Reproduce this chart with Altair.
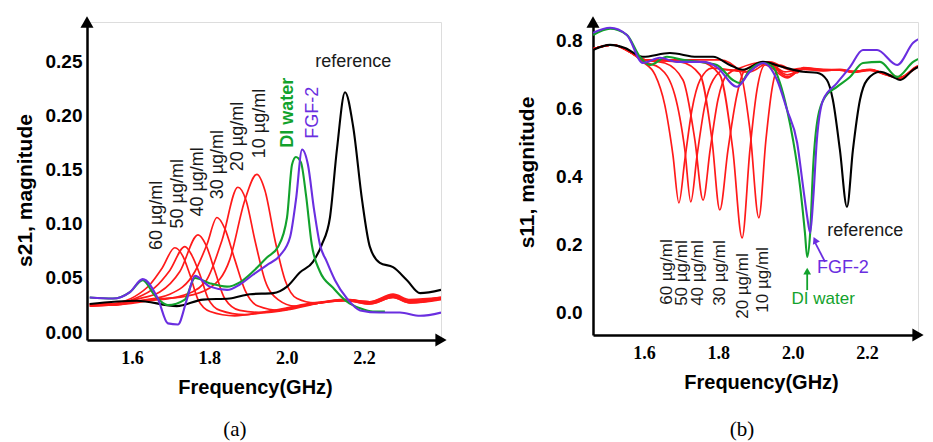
import altair as alt
import pandas as pd

# ---------------- Panel (a): s21 magnitude ----------------
A_F_REF = [1.491, 1.613, 1.716, 1.784, 1.853, 1.905, 1.965, 2.001, 2.034, 2.068, 2.091, 2.112, 2.130, 2.151, 2.172, 2.195, 2.215, 2.241, 2.275, 2.311, 2.345, 2.399]
A_V_REF = [0.026, 0.029, 0.024, 0.030, 0.031, 0.035, 0.036, 0.042, 0.055, 0.065, 0.081, 0.106, 0.169, 0.222, 0.190, 0.122, 0.079, 0.064, 0.060, 0.048, 0.036, 0.039]

A_F_DI = [1.491, 1.551, 1.595, 1.628, 1.659, 1.693, 1.737, 1.763, 1.802, 1.846, 1.879, 1.913, 1.949, 1.978, 2.001, 2.014, 2.024, 2.037, 2.050, 2.065, 2.086, 2.120, 2.156, 2.190, 2.223, 2.254]
A_V_DI = [0.032, 0.031, 0.037, 0.048, 0.034, 0.025, 0.030, 0.050, 0.045, 0.042, 0.046, 0.056, 0.069, 0.079, 0.106, 0.155, 0.162, 0.157, 0.127, 0.081, 0.056, 0.041, 0.028, 0.022, 0.019, 0.019]

A_F_FGF = [1.491, 1.551, 1.595, 1.628, 1.667, 1.693, 1.719, 1.742, 1.763, 1.802, 1.846, 1.879, 1.913, 1.949, 1.983, 2.009, 2.024, 2.040, 2.055, 2.071, 2.086, 2.104, 2.125, 2.156, 2.190, 2.241, 2.293, 2.345, 2.399]
A_V_FGF = [0.032, 0.031, 0.037, 0.049, 0.031, 0.008, 0.007, 0.030, 0.052, 0.042, 0.039, 0.044, 0.053, 0.062, 0.071, 0.088, 0.122, 0.169, 0.155, 0.113, 0.081, 0.065, 0.048, 0.031, 0.020, 0.018, 0.018, 0.015, 0.018]

A_F_60 = [1.491, 1.551, 1.608, 1.647, 1.678, 1.711, 1.732, 1.750, 1.771, 1.802, 1.866, 1.931, 1.996, 2.068, 2.156, 2.215, 2.275, 2.319, 2.399]
A_V_60 = [0.024, 0.026, 0.033, 0.044, 0.059, 0.078, 0.070, 0.053, 0.030, 0.019, 0.015, 0.018, 0.022, 0.027, 0.029, 0.026, 0.032, 0.027, 0.030]
A_F_50 = [1.491, 1.551, 1.608, 1.659, 1.698, 1.737, 1.755, 1.776, 1.797, 1.828, 1.892, 1.957, 2.022, 2.086, 2.156, 2.215, 2.275, 2.319, 2.399]
A_V_50 = [0.024, 0.025, 0.031, 0.041, 0.057, 0.079, 0.071, 0.053, 0.031, 0.020, 0.016, 0.019, 0.023, 0.027, 0.029, 0.026, 0.032, 0.027, 0.031]
A_F_40 = [1.491, 1.551, 1.608, 1.672, 1.724, 1.771, 1.791, 1.815, 1.840, 1.879, 1.944, 2.009, 2.086, 2.156, 2.215, 2.275, 2.319, 2.399]
A_V_40 = [0.025, 0.025, 0.030, 0.037, 0.056, 0.090, 0.081, 0.056, 0.031, 0.020, 0.018, 0.021, 0.027, 0.030, 0.027, 0.033, 0.028, 0.031]
A_F_30 = [1.491, 1.551, 1.621, 1.698, 1.763, 1.794, 1.820, 1.840, 1.866, 1.892, 1.926, 1.983, 2.047, 2.112, 2.164, 2.215, 2.275, 2.319, 2.399]
A_V_30 = [0.025, 0.025, 0.029, 0.035, 0.056, 0.081, 0.106, 0.096, 0.067, 0.039, 0.024, 0.020, 0.025, 0.028, 0.030, 0.027, 0.034, 0.028, 0.031]
A_F_20 = [1.491, 1.551, 1.647, 1.724, 1.789, 1.833, 1.874, 1.895, 1.918, 1.944, 1.978, 2.022, 2.086, 2.151, 2.215, 2.275, 2.319, 2.399]
A_V_20 = [0.026, 0.025, 0.029, 0.033, 0.046, 0.085, 0.134, 0.122, 0.085, 0.048, 0.030, 0.024, 0.027, 0.030, 0.028, 0.034, 0.029, 0.032]
A_F_10 = [1.491, 1.551, 1.647, 1.737, 1.802, 1.853, 1.892, 1.923, 1.944, 1.970, 1.996, 2.027, 2.073, 2.138, 2.215, 2.275, 2.319, 2.399]
A_V_10 = [0.026, 0.026, 0.030, 0.033, 0.041, 0.067, 0.122, 0.146, 0.131, 0.085, 0.048, 0.031, 0.027, 0.030, 0.028, 0.035, 0.030, 0.032]

A_LABELS = ["60 \u00b5g/ml", "50 \u00b5g/ml", "40 \u00b5g/ml", "30 \u00b5g/ml", "20 \u00b5g/ml", "10 \u00b5g/ml"]
A_LABEL_F = [1.665, 1.719, 1.771, 1.822, 1.874, 1.931]
A_LABEL_V = [0.108, 0.128, 0.139, 0.155, 0.181, 0.193]

# ---------------- Panel (b): s11 magnitude ----------------
B_F_REF = [1.463, 1.509, 1.549, 1.597, 1.670, 1.743, 1.786, 1.831, 1.866, 1.920, 1.974, 2.028, 2.065, 2.092, 2.108, 2.127, 2.146, 2.162, 2.181, 2.200, 2.235, 2.270, 2.289, 2.324, 2.369]
B_V_REF = [0.771, 0.786, 0.777, 0.751, 0.762, 0.751, 0.751, 0.727, 0.713, 0.736, 0.721, 0.707, 0.704, 0.683, 0.625, 0.478, 0.311, 0.478, 0.625, 0.683, 0.707, 0.692, 0.683, 0.713, 0.736]

B_F_DI = [1.463, 1.509, 1.554, 1.589, 1.616, 1.662, 1.705, 1.751, 1.796, 1.839, 1.858, 1.885, 1.920, 1.947, 1.966, 1.985, 2.001, 2.020, 2.033, 2.039, 2.047, 2.055, 2.068, 2.087, 2.119, 2.154, 2.189, 2.235, 2.281, 2.324, 2.369]
B_V_DI = [0.815, 0.833, 0.815, 0.751, 0.727, 0.751, 0.742, 0.736, 0.727, 0.683, 0.674, 0.713, 0.733, 0.721, 0.674, 0.595, 0.507, 0.370, 0.235, 0.164, 0.235, 0.428, 0.575, 0.633, 0.663, 0.692, 0.733, 0.736, 0.692, 0.736, 0.757]

B_F_FGF = [1.463, 1.509, 1.554, 1.597, 1.643, 1.689, 1.759, 1.796, 1.850, 1.885, 1.920, 1.958, 1.985, 2.012, 2.028, 2.039, 2.047, 2.055, 2.065, 2.082, 2.119, 2.154, 2.189, 2.227, 2.281, 2.324, 2.369]
B_V_FGF = [0.821, 0.836, 0.815, 0.733, 0.748, 0.736, 0.736, 0.721, 0.663, 0.707, 0.733, 0.683, 0.595, 0.499, 0.370, 0.282, 0.235, 0.331, 0.507, 0.625, 0.674, 0.721, 0.771, 0.771, 0.727, 0.792, 0.815]

B_F_60 = [1.463, 1.517, 1.562, 1.597, 1.630, 1.656, 1.678, 1.694, 1.710, 1.729, 1.751, 1.783, 1.831, 1.885, 1.939, 1.993, 2.028, 2.082, 2.127, 2.162, 2.208, 2.254, 2.289, 2.334, 2.369]
B_V_60 = [0.774, 0.786, 0.765, 0.736, 0.698, 0.610, 0.463, 0.323, 0.449, 0.595, 0.683, 0.718, 0.713, 0.707, 0.736, 0.713, 0.718, 0.713, 0.713, 0.707, 0.713, 0.698, 0.689, 0.721, 0.733]
B_F_50 = [1.463, 1.517, 1.562, 1.603, 1.643, 1.683, 1.710, 1.726, 1.743, 1.764, 1.786, 1.818, 1.872, 1.931, 1.979, 2.028, 2.082, 2.127, 2.162, 2.208, 2.254, 2.289, 2.334, 2.369]
B_V_50 = [0.774, 0.786, 0.765, 0.736, 0.718, 0.639, 0.478, 0.326, 0.463, 0.610, 0.683, 0.713, 0.707, 0.736, 0.707, 0.716, 0.711, 0.712, 0.705, 0.711, 0.697, 0.688, 0.720, 0.732]
B_F_40 = [1.463, 1.517, 1.562, 1.603, 1.656, 1.705, 1.737, 1.759, 1.778, 1.799, 1.823, 1.858, 1.931, 1.985, 2.028, 2.082, 2.127, 2.162, 2.208, 2.254, 2.289, 2.334, 2.369]
B_V_40 = [0.774, 0.786, 0.765, 0.742, 0.733, 0.683, 0.507, 0.331, 0.478, 0.625, 0.698, 0.718, 0.736, 0.698, 0.715, 0.710, 0.713, 0.706, 0.712, 0.699, 0.690, 0.722, 0.734]
B_F_30 = [1.463, 1.517, 1.562, 1.603, 1.697, 1.751, 1.783, 1.804, 1.826, 1.850, 1.872, 1.931, 1.985, 2.028, 2.082, 2.127, 2.162, 2.208, 2.254, 2.289, 2.334, 2.369]
B_V_30 = [0.774, 0.786, 0.765, 0.742, 0.736, 0.698, 0.507, 0.302, 0.478, 0.639, 0.713, 0.736, 0.692, 0.714, 0.712, 0.714, 0.708, 0.713, 0.700, 0.691, 0.723, 0.735]
B_F_20 = [1.463, 1.517, 1.562, 1.603, 1.751, 1.804, 1.839, 1.864, 1.885, 1.904, 1.926, 1.985, 2.028, 2.082, 2.127, 2.162, 2.208, 2.254, 2.289, 2.334, 2.369]
B_V_20 = [0.774, 0.786, 0.765, 0.742, 0.736, 0.698, 0.478, 0.220, 0.478, 0.654, 0.727, 0.689, 0.717, 0.713, 0.712, 0.707, 0.714, 0.698, 0.689, 0.721, 0.733]
B_F_10 = [1.463, 1.517, 1.562, 1.603, 1.804, 1.858, 1.885, 1.909, 1.928, 1.944, 1.966, 2.012, 2.028, 2.082, 2.127, 2.162, 2.208, 2.254, 2.289, 2.334, 2.369]
B_V_10 = [0.774, 0.786, 0.765, 0.742, 0.742, 0.707, 0.537, 0.279, 0.507, 0.654, 0.727, 0.704, 0.719, 0.714, 0.713, 0.708, 0.713, 0.699, 0.690, 0.722, 0.734]

B_LABELS = A_LABELS
B_LABEL_F = [1.662, 1.702, 1.745, 1.804, 1.866, 1.920]
B_LABEL_V = [0.120, 0.117, 0.117, 0.117, 0.079, 0.097]

RED = "#ff1a1a"
GREEN = "#12a22c"
PURPLE = "#6a2ee0"
SANS = "Liberation Sans"
SERIF = "Liberation Serif"


def frame(fs, vs, name):
    return pd.DataFrame({"f": fs, "v": vs, "s": name})


def panel(xdom, ydom, yvals, yfmt, ytitle, ylabpad, ytitle_x, ytitle_y, w, h,
          reds, ref, di, fgf):
    x = alt.X("f:Q", scale=alt.Scale(domain=xdom, nice=False, zero=False),
              axis=alt.Axis(values=[1.6, 1.8, 2.0, 2.2], format=".1f", title="Frequency(GHz)",
                            grid=False, ticks=False, tickSize=0, domainColor="black", domainWidth=2.5,
                            labelFont=SERIF, labelFontWeight="bold", labelFontSize=18, labelColor="black",
                            labelPadding=9, titleFont=SANS, titleFontWeight="bold", titleFontSize=20,
                            titleColor="black", titleX=168, titleY=47, titleBaseline="middle"))
    y = alt.Y("v:Q", scale=alt.Scale(domain=ydom, nice=False, zero=False),
              axis=alt.Axis(values=yvals, format=yfmt, title=ytitle, grid=False, ticks=False, tickSize=0,
                            domainColor="black", domainWidth=2.5, labelFont=SANS, labelFontWeight="bold",
                            labelFontSize=19, labelColor="black", labelPadding=ylabpad,
                            titleFont=SANS, titleFontWeight="bold", titleFontSize=21, titleColor="black",
                            titleX=ytitle_x, titleY=ytitle_y, titleAngle=270, titleAlign="center",
                            titleBaseline="middle"))
    red_df = pd.concat(reds)
    lr = alt.Chart(red_df).mark_line(color=RED, strokeWidth=1.7, interpolate="monotone", clip=True).encode(x=x, y=y, detail="s:N")
    lk = alt.Chart(ref).mark_line(color="black", strokeWidth=2.1, interpolate="monotone", clip=True).encode(x=x, y=y)
    lg = alt.Chart(di).mark_line(color=GREEN, strokeWidth=2.1, interpolate="monotone", clip=True).encode(x=x, y=y)
    lp = alt.Chart(fgf).mark_line(color=PURPLE, strokeWidth=2.1, interpolate="monotone", clip=True).encode(x=x, y=y)
    heads = pd.DataFrame({"f": [xdom[0], xdom[1]], "v": [ydom[1], ydom[0]], "shape": ["triangle-up", "triangle-right"]})
    ah = alt.Chart(heads).mark_point(filled=True, color="black", size=170, opacity=1).encode(
        x=x, y=y, shape=alt.Shape("shape:N", scale=None))
    return x, y, [lr, lk, lg, lp, ah]


# Panel a
xa, ya, layers_a = panel([1.484, 2.399], [-0.0074, 0.287], [0, 0.05, 0.10, 0.15, 0.20, 0.25], ".2f",
                         "s21, magnitude", 5, -62, 168, 354, 318,
                         [frame(A_F_60, A_V_60, "60"), frame(A_F_50, A_V_50, "50"), frame(A_F_40, A_V_40, "40"),
                          frame(A_F_30, A_V_30, "30"), frame(A_F_20, A_V_20, "20"), frame(A_F_10, A_V_10, "10")],
                         frame(A_F_REF, A_V_REF, "ref"), frame(A_F_DI, A_V_DI, "di"), frame(A_F_FGF, A_V_FGF, "fgf"))

a_conc = pd.DataFrame({"f": A_LABEL_F, "v": A_LABEL_V, "t": A_LABELS})
ta_conc = alt.Chart(a_conc).mark_text(angle=270, font=SANS, fontSize=18, color="#1a1a1a", align="center",
                                      baseline="middle").encode(x=xa, y=ya, text="t:N")
ta_di = alt.Chart(pd.DataFrame({"f": [2.003], "v": [0.203], "t": ["DI water"]})).mark_text(
    angle=270, font=SANS, fontSize=18, fontWeight="bold", color=GREEN, align="center", baseline="middle").encode(x=xa, y=ya, text="t:N")
ta_fgf = alt.Chart(pd.DataFrame({"f": [2.068], "v": [0.203], "t": ["FGF-2"]})).mark_text(
    angle=270, font=SANS, fontSize=18, color=PURPLE, align="center", baseline="middle").encode(x=xa, y=ya, text="t:N")
ta_ref = alt.Chart(pd.DataFrame({"f": [2.172], "v": [0.250], "t": ["reference"]})).mark_text(
    font=SANS, fontSize=18, color="#1a1a1a", align="center", baseline="middle").encode(x=xa, y=ya, text="t:N")
ta_cap = alt.Chart(pd.DataFrame({"f": [1.866], "v": [-0.0907], "t": ["(a)"]})).mark_text(
    font=SERIF, fontSize=21, color="black", align="center", baseline="middle").encode(x=xa, y=ya, text="t:N")

chart_a = alt.layer(*layers_a, ta_conc, ta_di, ta_fgf, ta_ref, ta_cap).properties(width=354, height=318)

# Panel b
xb, yb, layers_b = panel([1.463, 2.337], [-0.0645, 0.853], [0, 0.2, 0.4, 0.6, 0.8], ".1f",
                         "s11, magnitude", 11, -66, 150, 325, 313,
                         [frame(B_F_60, B_V_60, "60"), frame(B_F_50, B_V_50, "50"), frame(B_F_40, B_V_40, "40"),
                          frame(B_F_30, B_V_30, "30"), frame(B_F_20, B_V_20, "20"), frame(B_F_10, B_V_10, "10")],
                         frame(B_F_REF, B_V_REF, "ref"), frame(B_F_DI, B_V_DI, "di"), frame(B_F_FGF, B_V_FGF, "fgf"))

b_conc = pd.DataFrame({"f": B_LABEL_F, "v": B_LABEL_V, "t": B_LABELS})
tb_conc = alt.Chart(b_conc).mark_text(angle=270, font=SANS, fontSize=17, color="#1a1a1a", align="center",
                                      baseline="middle").encode(x=xb, y=yb, text="t:N")
tb_ref = alt.Chart(pd.DataFrame({"f": [2.195], "v": [0.240], "t": ["reference"]})).mark_text(
    font=SANS, fontSize=18, color="#1a1a1a", align="center", baseline="middle").encode(x=xb, y=yb, text="t:N")
tb_fgf = alt.Chart(pd.DataFrame({"f": [2.135], "v": [0.132], "t": ["FGF-2"]})).mark_text(
    font=SANS, fontSize=18, color=PURPLE, align="center", baseline="middle").encode(x=xb, y=yb, text="t:N")
tb_di = alt.Chart(pd.DataFrame({"f": [2.082], "v": [0.041], "t": ["DI water"]})).mark_text(
    font=SANS, fontSize=17, color=GREEN, align="center", baseline="middle").encode(x=xb, y=yb, text="t:N")
tb_cap = alt.Chart(pd.DataFrame({"f": [1.864], "v": [-0.343], "t": ["(b)"]})).mark_text(
    font=SERIF, fontSize=21, color="black", align="center", baseline="middle").encode(x=xb, y=yb, text="t:N")

arrows = pd.DataFrame({"f": [2.039, 2.087], "v": [0.067, 0.150], "f2": [2.039, 2.060], "v2": [0.118, 0.207],
                       "c": ["di", "fgf"]})
arrow_scale = alt.Scale(domain=["di", "fgf"], range=[GREEN, PURPLE])
arr_lines = alt.Chart(arrows).mark_rule(strokeWidth=1.8).encode(
    x=xb, y=yb, x2="f2:Q", y2="v2:Q", color=alt.Color("c:N", scale=arrow_scale, legend=None))
tips = pd.DataFrame({"f": [2.039, 2.060], "v": [0.123, 0.214], "c": ["di", "fgf"], "a": [0, 335]})
arr_tips = alt.Chart(tips).mark_point(shape="triangle-up", filled=True, size=60, opacity=1).encode(
    x=xb, y=yb, color=alt.Color("c:N", scale=arrow_scale, legend=None), angle=alt.Angle("a:Q", scale=None))

chart_b = alt.layer(*layers_b, tb_conc, tb_ref, tb_fgf, tb_di, tb_cap, arr_lines, arr_tips).properties(width=325, height=313)

chart = alt.hconcat(chart_a, chart_b, spacing=152, bounds="flush").properties(
    padding={"left": 5, "top": 7, "right": 0, "bottom": 0}
).configure_view(stroke=None).configure(background="white")

chart.save("out.html", embed_options={"renderer": "svg", "actions": False})
